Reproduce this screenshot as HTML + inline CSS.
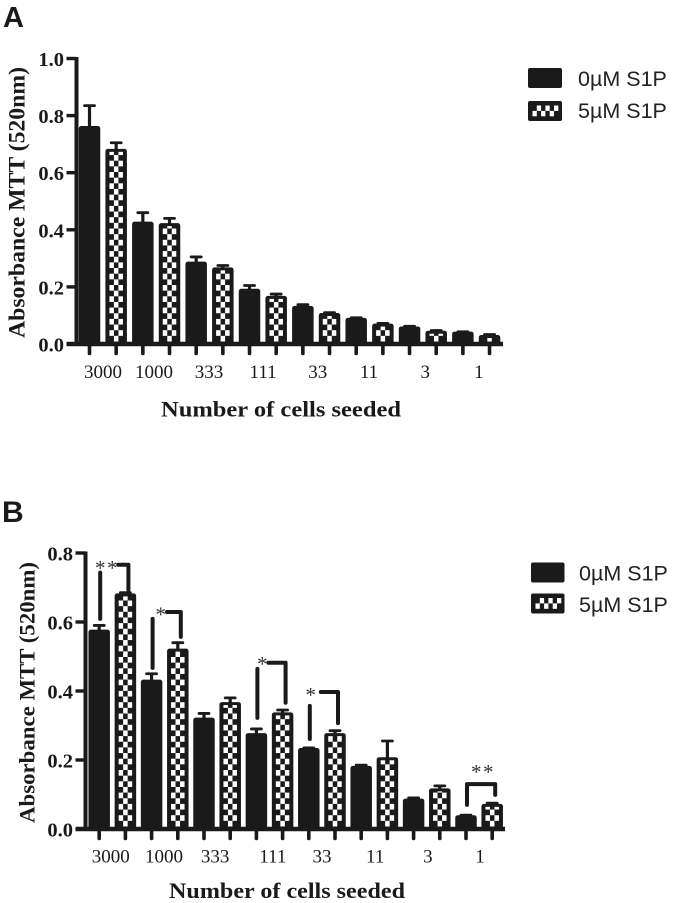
<!DOCTYPE html>
<html lang="en">
<head>
<meta charset="utf-8">
<title>MTT absorbance by number of cells seeded</title>
<style>
html,body{margin:0;padding:0;background:#fff;}
body{width:675px;height:903px;overflow:hidden;}
svg{display:block;}
.ser{font-family:"Liberation Serif",serif;}
.san{font-family:"Liberation Sans",sans-serif;}
</style>
</head>
<body>
<svg id="fig" xmlns="http://www.w3.org/2000/svg" width="675" height="903" viewBox="0 0 675 903">
  <rect width="675" height="903" fill="#fff"/>
  <text class="san" x="3" y="27" font-size="29" font-weight="700" fill="#1a1a1a">A</text>
  <text class="san" x="2" y="522" font-size="30" font-weight="700" fill="#1a1a1a">B</text>
</svg>
<script>
const categories = ['3000','1000','333','111','33','11','3','1'];

const ticksA = ['0.0','0.2','0.4','0.6','0.8','1.0'];
const controlA = [0.76,0.425,0.285,0.19,0.13,0.088,0.058,0.04];
const controlErrA = [0.075,0.035,0.02,0.015,0.008,0.004,0.004,0.003];
const treatedA = [0.68,0.42,0.265,0.165,0.105,0.068,0.043,0.028];
const treatedErrA = [0.025,0.02,0.01,0.01,0.005,0.004,0.004,0.005];

const ticksB = ['0.0','0.2','0.4','0.6','0.8'];
const controlB = [0.575,0.43,0.32,0.275,0.232,0.18,0.085,0.037];
const controlErrB = [0.015,0.02,0.015,0.015,0.003,0.005,0.005,0.003];
const treatedB = [0.68,0.52,0.365,0.335,0.275,0.205,0.115,0.07];
const treatedErrB = [0.005,0.02,0.015,0.01,0.01,0.05,0.01,0.005];

const sigGroups = [0,1,3,4,7];
const sigStars = ['**','*','*','*','**'];
const sigLeftLow = [0.609,0.467,0.322,0.261,0.07];
const sigLeftHigh = [0.743,0.609,0.464,0.357,null];
const sigTop = [0.766,0.629,0.482,0.397,0.13];
const sigRightLow = [0.693,0.557,0.366,0.307,0.099];
const sigStarLevel = [0.765,0.63,0.487,0.397,0.174];

const seriesNames = ['0µM S1P','5µM S1P'];

const INK = '#1a1a1a';
const NS = 'http://www.w3.org/2000/svg';
const fig = document.getElementById('fig');

function el(tag, attrs, parent, text) {
  const node = document.createElementNS(NS, tag);
  for (const k in attrs) node.setAttribute(k, attrs[k]);
  if (text !== undefined) node.textContent = text;
  (parent || fig).appendChild(node);
  return node;
}

function drawBar(g, cx, base, valueY, treated, w) {
  const x = cx - w / 2;
  const topY = valueY - 1;
  const bar = el('rect', {x: x, y: topY, width: w, height: base - topY, rx: 2.5, fill: INK}, g);
  
  
  if (!treated) return;
  const pad = 4, cw = (w - 2 * pad) / 3, ch = 5.65;
  const limit = topY + 3;
  for (let r = 0; ; r++) {
    const bottom = base - 2.5 - r * ch;
    if (bottom <= limit + 0.8) break;
    const top = Math.max(bottom - ch, limit);
    for (let c = 0; c < 3; c++) {
      if ((r + c) % 2 !== 1) continue;
      const cell = el('rect', {x: x + pad + c * cw, y: top, width: cw, height: bottom - top, fill: '#fff'}, g);
      
      
    }
  }
}

function drawError(g, cx, valueY, upperY, capW) {
  const stem = el('line', {x1: cx, x2: cx, y1: valueY, y2: upperY, stroke: INK, 'stroke-width': 3.2}, g);
  
  
  const cap = el('line', {x1: cx - capW / 2, x2: cx + capW / 2, y1: upperY, y2: upperY, stroke: INK, 'stroke-width': 2.8, 'stroke-linecap': 'round'}, g);
  
  
}

function drawPanel(p) {
  const root = el('g', {});
  
  
  const yScale = v => p.baseY - v * p.unit;
  const xScale = i => p.firstX + i * p.step;

  // bars
  p.control.forEach((v, i) => {
    const a = xScale(i * 2), b = xScale(i * 2 + 1);
    drawError(root, a, yScale(v), yScale(v + p.controlErr[i]), 10);
    drawBar(root, a, p.baseY, yScale(v), false, 21.5);
    drawError(root, b, yScale(p.treated[i]), yScale(p.treated[i] + p.treatedErr[i]), 10);
    drawBar(root, b, p.baseY, yScale(p.treated[i]), true, 21.5);
  });

  // y axis
  const yTop = yScale(parseFloat(p.ticks[p.ticks.length - 1]));
  const yAxis = el('line', {x1: p.axisX, x2: p.axisX, y1: yTop - 1.5, y2: p.baseY, stroke: INK, 'stroke-width': 4}, root);
  
  
  p.ticks.forEach(t => {
    const y = yScale(parseFloat(t));
    const tick = el('line', {x1: p.axisX - 10, x2: p.axisX, y1: y, y2: y, stroke: INK, 'stroke-width': 3.4}, root);
    
    
    const lab = el('text', {x: p.axisX - 12.5, y: y + 7.5, 'text-anchor': 'end', class: 'ser', 'font-size': 20.5, 'font-weight': 700, fill: INK}, root, t);
    
    
  });

  // x axis
  const xAxis = el('line', {x1: p.axisX - 10, x2: p.axisEnd, y1: p.baseY, y2: p.baseY, stroke: INK, 'stroke-width': 4.4}, root);
  
  
  for (let i = 0; i < categories.length * 2; i++) {
    const tick = el('line', {x1: xScale(i), x2: xScale(i), y1: p.baseY, y2: p.baseY + 9.5, stroke: INK, 'stroke-width': 3.6, 'stroke-linecap': 'round'}, root);
    
    
  }
  categories.forEach((c, i) => {
    const lab = el('text', {x: p.labelStart + i * p.labelStep + p.labelNudge[i], y: p.labelY, 'text-anchor': 'middle', class: 'ser', 'font-size': 19, fill: INK}, root, c);
    
    
  });

  // titles
  const xt = el('text', {x: p.xTitleX, y: p.xTitleY, class: 'ser', 'font-size': 22, 'font-weight': 700, fill: INK, textLength: p.xTitleLen, lengthAdjust: 'spacingAndGlyphs'}, root, 'Number of cells seeded');
  
  
  const yt = el('text', {transform: 'translate(' + p.yTitleX + ',' + p.yTitleBottom + ') rotate(-90)', class: 'ser', 'font-size': p.yTitleSize, 'font-weight': 700, fill: INK, textLength: p.yTitleLen, lengthAdjust: 'spacingAndGlyphs'}, root, 'Absorbance MTT (520nm)');
  
  

  // legend
  const sw0 = el('rect', {x: p.legX, y: p.legY0, width: p.legW, height: 20, rx: 2, fill: INK}, root);
  
  
  const sw1 = el('rect', {x: p.legX, y: p.legY1, width: p.legW, height: 20, rx: 2, fill: INK}, root);
  
  
  const cw = 4.3, ch = 5.4, sx = p.legX + 4.5, sy = p.legY1 + 4.5;
  for (let r = 0; r < 2; r++) for (let c = 0; c < 6; c++) {
    if ((r + c) % 2 === 0) continue;
    const cell = el('rect', {x: sx + c * cw, y: sy + r * ch, width: cw, height: ch, fill: '#fff'}, root);
    
    
  }
  seriesNames.forEach((s, i) => {
    const t = el('text', {x: p.legTextX, y: i ? p.legBase1 : p.legBase0, class: 'san', 'font-size': 21.5, fill: '#222'}, root, s);
    
    
  });
  return {root, yScale, xScale};
}

drawPanel({
  name: 'panel-a', control: controlA, controlErr: controlErrA, treated: treatedA, treatedErr: treatedErrA, ticks: ticksA,
  baseY: 344, unit: 285.5, firstX: 89.5, step: 26.67, axisX: 76.5, axisEnd: 503,
  labelStart: 103, labelStep: 53.7, labelY: 378, labelNudge: [0,-2.7,-1.4,-1,0,-2.5,0,0],
  xTitleX: 161, xTitleY: 416.5, xTitleLen: 240,
  yTitleX: 24.5, yTitleBottom: 338, yTitleLen: 271, yTitleSize: 23.5,
  legX: 528, legY0: 68, legY1: 101, legW: 34, legTextX: 578, legBase0: 86, legBase1: 118
});

const panelB = drawPanel({
  name: 'panel-b', control: controlB, controlErr: controlErrB, treated: treatedB, treatedErr: treatedErrB, ticks: ticksB,
  baseY: 829, unit: 345, firstX: 99.2, step: 26.2, axisX: 85.5, axisEnd: 505,
  labelStart: 110.7, labelStep: 52.7, labelY: 862.5, labelNudge: [0,0.6,-1,4,0.5,1,1,0.4],
  xTitleX: 169, xTitleY: 898, xTitleLen: 236,
  yTitleX: 34.5, yTitleBottom: 823, yTitleLen: 261, yTitleSize: 22.5,
  legX: 531, legY0: 562.5, legY1: 593.5, legW: 33.5, legTextX: 579, legBase0: 580.5, legBase1: 612
});

// significance brackets (panel B)
const bracketStarFrac = [0.0, 0.29, 0.17, 0.03, 0.33];
const bracketGapFrac = [0.64, 0.51, 0.39, 0.39, 0];
sigGroups.forEach((g, i) => {
  const group = el('g', {}, panelB.root);
  
  
  const left = panelB.xScale(g * 2) + 1;
  const right = panelB.xScale(g * 2 + 1) + 3;
  const span = right - left;
  const y = panelB.yScale;
  const common = {fill: 'none', stroke: INK, 'stroke-width': 4, 'stroke-linecap': 'round', 'stroke-linejoin': 'round'};
  if (sigLeftHigh[i] !== null) {
    const lp = el('path', Object.assign({d: 'M' + left + ' ' + y(sigLeftLow[i]) + 'V' + y(sigLeftHigh[i])}, common), group);
    
    
    const rp = el('path', Object.assign({d: 'M' + (left + span * bracketGapFrac[i]) + ' ' + y(sigTop[i]) + 'H' + right + 'V' + y(sigRightLow[i])}, common), group);
    
    
  } else {
    const bp = el('path', Object.assign({d: 'M' + left + ' ' + y(sigLeftLow[i]) + 'V' + y(sigTop[i]) + 'H' + right + 'V' + y(sigRightLow[i])}, common), group);
    
    
  }
  const stars = sigStars[i];
  for (let s = 0; s < stars.length; s++) {
    const sx = left + span * bracketStarFrac[i] + s * 12;
    const st = el('text', {x: sx, y: y(sigStarLevel[i]) + 10, 'text-anchor': 'middle', class: 'ser', 'font-size': 21, fill: '#333'}, group, '*');
    
    
  }
});
</script>
</body>
</html>
